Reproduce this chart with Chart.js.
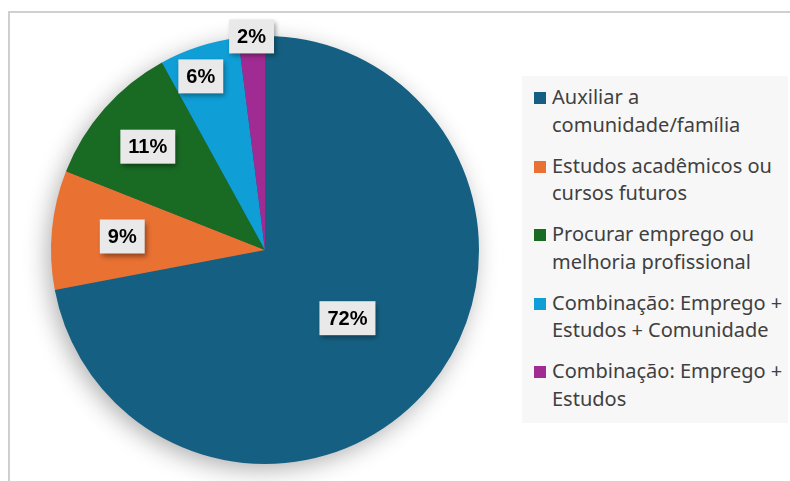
<!DOCTYPE html>
<html>
<head>
<meta charset="utf-8">
<script src="https://cdn.jsdelivr.net/npm/chart.js@4.4.1/dist/chart.umd.min.js"></script>
<style>
  html, body { margin: 0; padding: 0; background: #fff; }
  #wrap { position: relative; width: 790px; height: 481px; overflow: hidden; }
  #frame { position: absolute; left: 8px; top: 11px; width: 800px; height: 500px;
           border-top: 2px solid #cfcfcf; border-left: 2px solid #cfcfcf; }
  #chart { position: absolute; left: 0; top: 0; }
  #legend { position: absolute; left: 522px; top: 76px; width: 266px; height: 347px;
            background: #f7f7f7; box-sizing: border-box; padding: 7px 0 0 12px;
            font-family: "Noto Sans", sans-serif; font-size: 20px; color: #404040; }
  .item { display: flex; align-items: flex-start; margin-bottom: 13.5px; }
  .sw { width: 12px; height: 12px; margin: 9px 6px 0 0; flex: none; }
  .txt { line-height: 27.5px; white-space: nowrap; }
</style>
</head>
<body>
<div id="wrap">
  <div id="frame"></div>
  <canvas id="chart" width="790" height="481"></canvas>
  <div id="legend"></div>
</div>
<script>
// Dados do gráfico
const categorias = [
    ['Auxiliar a', 'comunidade/família'],
    ['Estudos acadêmicos ou', 'cursos futuros'],
    ['Procurar emprego ou', 'melhoria profissional'],
    ['Combinação: Emprego +', 'Estudos + Comunidade'],
    ['Combinação: Emprego +', 'Estudos']
];
const percentuais = [72, 9, 11, 6, 2];
const cores = ['#156082', '#E97132', '#196B24', '#0F9ED5', '#A02B93'];

// Sombra suave por trás da pizza
const pieShadow = {
    id: 'pieShadow',
    beforeDatasetsDraw(chart) {
        const arc = chart.getDatasetMeta(0).data[0];
        if (!arc) return;
        const { x, y, outerRadius } = arc.getProps(['x', 'y', 'outerRadius'], true);
        const ctx = chart.ctx;
        ctx.save();
        ctx.shadowColor = 'rgba(0,0,0,0.32)';
        ctx.shadowBlur = 24;
        ctx.shadowOffsetX = -4;
        ctx.shadowOffsetY = 6;
        ctx.fillStyle = cores[0];
        ctx.beginPath();
        ctx.arc(x, y, outerRadius - 1, 0, Math.PI * 2);
        ctx.fill();
        ctx.restore();
    }
};

// Rótulos de porcentagem com caixa cinza
const sliceLabels = {
    id: 'sliceLabels',
    afterDatasetsDraw(chart, args, opts) {
        const ctx = chart.ctx;
        const meta = chart.getDatasetMeta(0);
        const valores = chart.data.datasets[0].data;
        ctx.save();
        ctx.font = 'bold 20px "Liberation Sans", Arial, sans-serif';
        ctx.textAlign = 'center';
        ctx.textBaseline = 'middle';
        meta.data.forEach((arc, i) => {
            const p = arc.getProps(['x', 'y', 'startAngle', 'endAngle', 'outerRadius'], true);
            const mid = (p.startAngle + p.endAngle) / 2 + opts.shift[i];
            const r = p.outerRadius * opts.radii[i];
            const cx = p.x + Math.cos(mid) * r;
            const cy = p.y + Math.sin(mid) * r;
            const text = valores[i] + '%';
            const w = ctx.measureText(text).width + 16;
            const h = 34;
            ctx.save();
            ctx.shadowColor = 'rgba(0,0,0,0.4)';
            ctx.shadowBlur = 5;
            ctx.shadowOffsetX = 2;
            ctx.shadowOffsetY = 3;
            ctx.fillStyle = '#e9e9e9';
            ctx.fillRect(cx - w / 2, cy - h / 2, w, h);
            ctx.restore();
            ctx.fillStyle = '#000';
            ctx.fillText(text, cx, cy + 1);
        });
        ctx.restore();
    }
};

new Chart(document.getElementById('chart'), {
    type: 'pie',
    data: {
        labels: categorias,
        datasets: [{
            data: percentuais,
            backgroundColor: cores,
            borderWidth: 0
        }]
    },
    options: {
        responsive: false,
        animation: false,
        layout: { padding: { left: 0, right: 260, top: 36, bottom: 17 } },
        plugins: {
            legend: { display: false },
            tooltip: { enabled: false },
            sliceLabels: {
                radii: [0.5, 0.67, 0.73, 0.865, 1.0],
                shift: [0, 0, 0, -0.04, 0]
            }
        }
    },
    plugins: [pieShadow, sliceLabels]
});

// Legenda em HTML
const legendEl = document.getElementById('legend');
categorias.forEach((linhas, i) => {
    const item = document.createElement('div');
    item.className = 'item';
    item.innerHTML = `<div class="sw" style="background:${cores[i]}"></div><div class="txt">${linhas.join('<br>')}</div>`;
    legendEl.appendChild(item);
});
</script>
</body>
</html>
